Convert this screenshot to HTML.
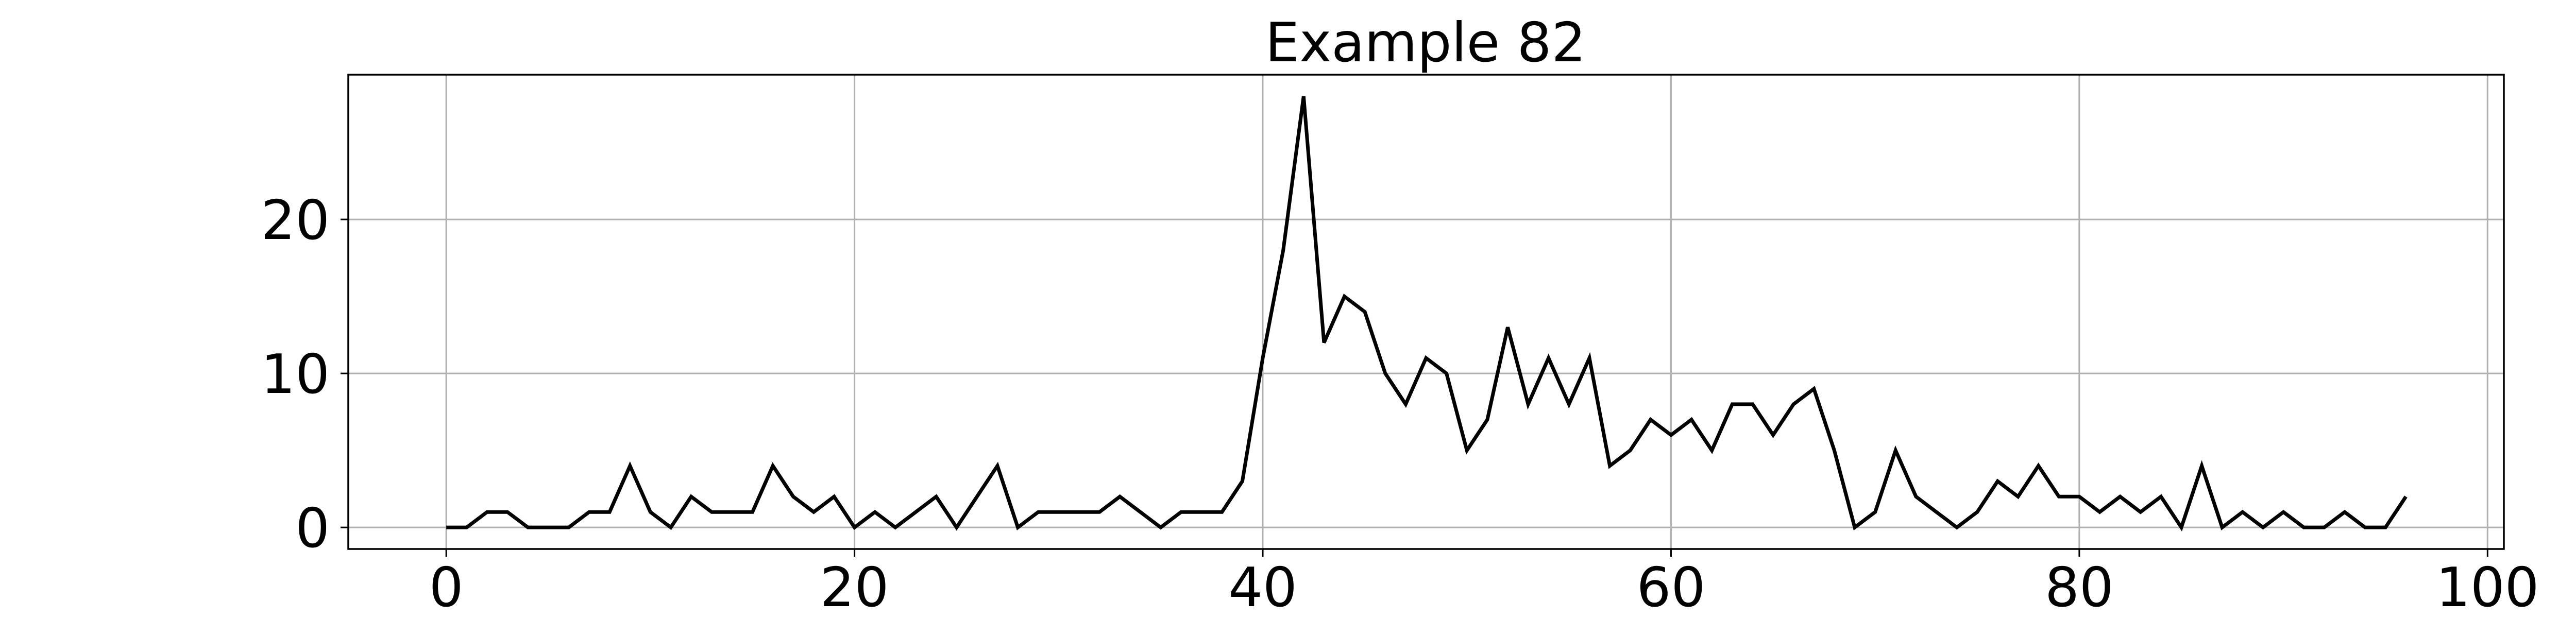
<!DOCTYPE html>
<html><head><meta charset="utf-8"><style>
html,body{margin:0;padding:0;background:#fff;}
svg{display:block;font-family:"DejaVu Sans","Liberation Sans",sans-serif;}
</style></head><body>
<svg id="chart" width="5400" height="1200" viewBox="0 0 5400 1200" xmlns="http://www.w3.org/2000/svg">
<text x="2767" y="119" font-size="105" text-anchor="middle">Example 82</text>
<g id="grid"></g>
<g id="ticks"></g>
<polyline id="series" fill="none" stroke="#000" stroke-width="7" stroke-linejoin="miter"/>
<rect x="676" y="145" width="4184" height="921" fill="none" stroke="#000" stroke-width="3.5"/>
</svg>
<script>
const yValues = [0,0,1,1,0,0,0,1,1,4,1,0,2,1,1,1,4,2,1,2,0,1,0,1,2,0,2,4,0,1,1,1,1,2,1,0,1,1,1,3,11,18,28,12,15,14,10,8,11,10,5,7,13,8,11,8,11,4,5,7,6,7,5,8,8,6,8,9,5,0,1,5,2,1,0,1,3,2,4,2,2,1,2,1,2,0,4,0,1,0,1,0,0,1,0,0,2];
const xTicks = [0,20,40,60,80,100];
const yTicks = [0,10,20];
const L=676,R=4860,T=145,B=1066;
const n=yValues.length;
const xMin=-(n-1)*0.05, xMax=(n-1)*1.05;
const yMaxV=Math.max(...yValues), yMinV=Math.min(...yValues);
const yr=yMaxV-yMinV;
const yMin=yMinV-yr*0.05, yMax=yMaxV+yr*0.05;
const xs=v=>L+(v-xMin)/(xMax-xMin)*(R-L);
const ys=v=>B-(v-yMin)/(yMax-yMin)*(B-T);
const NS='http://www.w3.org/2000/svg';
const grid=document.getElementById('grid'), ticks=document.getElementById('ticks');
function mk(tag,attrs,parent){const e=document.createElementNS(NS,tag);for(const k in attrs)e.setAttribute(k,attrs[k]);parent.appendChild(e);return e;}
xTicks.forEach(t=>{
  const x=xs(t);
  const g=mk('line',{x1:x,x2:x,y1:T,y2:B,stroke:'#b0b0b0','stroke-width':3},grid);
  
  
  const tk=mk('line',{x1:x,x2:x,y1:B,y2:B+15,stroke:'#000','stroke-width':3},ticks);
  
  
  const lb=mk('text',{x:x,y:1177,'font-size':105,'text-anchor':'middle'},ticks);
  lb.textContent=t;
  
  
});
yTicks.forEach(t=>{
  const y=ys(t);
  const g=mk('line',{x1:L,x2:R,y1:y,y2:y,stroke:'#b0b0b0','stroke-width':3},grid);
  
  
  const tk=mk('line',{x1:L-15,x2:L,y1:y,y2:y,stroke:'#000','stroke-width':3},ticks);
  
  
  const lb=mk('text',{x:L-36,y:y+38,'font-size':105,'text-anchor':'end'},ticks);
  lb.textContent=t;
  
  
});
document.getElementById('series').setAttribute('points',yValues.map((v,i)=>xs(i).toFixed(1)+','+ys(v).toFixed(1)).join(' '));
</script>
</body></html>
